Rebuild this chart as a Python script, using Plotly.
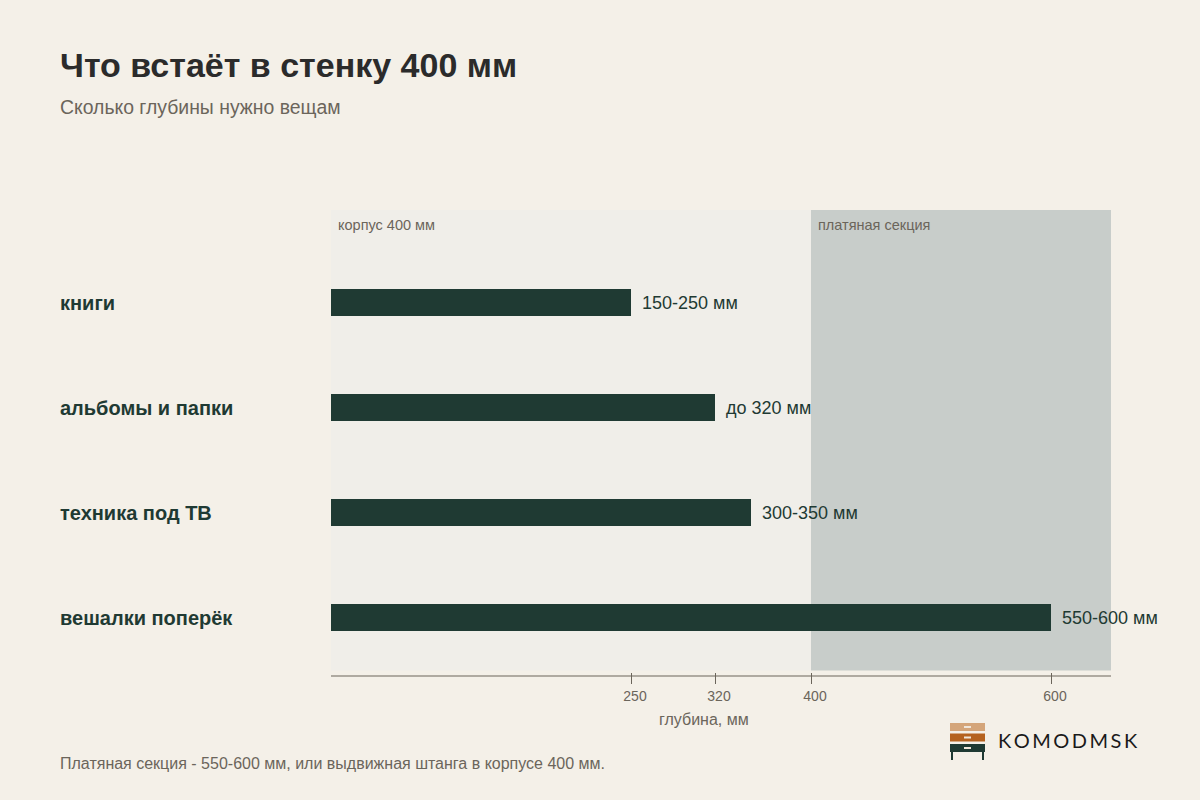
import plotly.graph_objects as go

categories = ["книги", "альбомы и папки", "техника под ТВ", "вешалки поперёк"]
depth_max = [250, 320, 350, 600]
value_labels = ["150-250 мм", "до 320 мм", "300-350 мм", "550-600 мм"]
tick_vals = [250, 320, 400, 600]
tick_text = ["250", "320", "400", "600"]
zones = [(0, 400, "корпус 400 мм"), (400, 650, "платяная секция")]

BG = "#f4f0e8"
DARK = "#1f3a33"
MUTED = "#6b655b"
FONT = "Liberation Sans, Arial, sans-serif"

W, H = 1200, 800
ML, MR, MT, MB = 331, 89, 210, 128
PW, PH = W - ML - MR, H - MT - MB


def px(xp, yp):
    """page pixel -> paper coordinates (relative to plot area)"""
    return (xp - ML) / PW, (H - MB - yp) / PH


fig = go.Figure()
fig.add_trace(go.Bar(
    x=depth_max, y=categories, orientation="h",
    marker=dict(color=DARK, line=dict(width=0)),
    width=0.26, hoverinfo="skip",
))

zone_colors = ["#f0eee9", "#c8cdca"]
for (x0, x1, label), col in zip(zones, zone_colors):
    fig.add_shape(type="rect", xref="x", yref="y domain", x0=x0, x1=x1,
                  y0=1.5 / PH, y1=1, fillcolor=col, line=dict(width=0), layer="below")
    fig.add_annotation(x=x0, y=1, xref="x", yref="y domain", text=label,
                       xanchor="left", yanchor="top", xshift=5, yshift=-5,
                       showarrow=False, font=dict(size=14.5, color=MUTED, family=FONT))

# axis line
fig.add_shape(type="line", xref="x domain", yref="y domain", x0=0, x1=1,
              y0=-4 / PH, y1=-4 / PH, line=dict(color=MUTED, width=1))

for cat, v, lab in zip(categories, depth_max, value_labels):
    fig.add_annotation(x=v, y=cat, text=lab, xanchor="left", xshift=9,
                       showarrow=False, font=dict(size=18, color=DARK, family=FONT))
    fig.add_annotation(x=px(60, 0)[0], xref="paper", y=cat, text="<b>" + cat + "</b>",
                       xanchor="left", xshift=-2, showarrow=False,
                       font=dict(size=20, color=DARK, family=FONT))


def page_text(xp, yp, text, size, color, family=FONT, anchor="left"):
    x, y = px(xp, yp)
    fig.add_annotation(x=x, y=y, xref="paper", yref="paper", text=text,
                       xanchor=anchor, yanchor="middle", showarrow=False,
                       xshift=-2 if anchor == "left" else 0,
                       font=dict(size=size, color=color, family=family))

page_text(60, 65, "<b>Что встаёт в стенку 400 мм</b>", 34, "#2b2b2b")
page_text(60, 107, "Сколько глубины нужно вещам", 19.4, MUTED)
page_text(60, 763, "Платяная секция - 550-600 мм, или выдвижная штанга в корпусе 400 мм.", 16, MUTED)
page_text(704, 719, "глубина, мм", 16, MUTED, anchor="center")


def page_rect(x0, y0, x1, y1, color):
    a = px(x0, y1); b = px(x1, y0)
    fig.add_shape(type="rect", xref="paper", yref="paper", x0=a[0], x1=b[0], y0=a[1], y1=b[1],
                  fillcolor=color, line=dict(width=0))

logo = [(723, 731, "#d4a57a"), (733.5, 741.5, "#b5621f"), (744, 752, DARK)]
for y0, y1, c in logo:
    page_rect(950, y0, 985, y1, c)
    hy = (y0 + y1) / 2
    page_rect(964, hy - 1, 971, hy + 1, "#f0e6da")
for lx in (951, 982):
    page_rect(lx, 752, lx + 2, 760, DARK)
page_text(998, 740, "\u2009".join("KOMODMSK"), 20, "#1a1a1a", "Lato, sans-serif")

fig.update_layout(
    width=W, height=H,
    paper_bgcolor=BG, plot_bgcolor=BG,
    margin=dict(l=ML, r=MR, t=MT, b=MB),
    showlegend=False, bargap=0,
    font=dict(family=FONT, color=MUTED),
    xaxis=dict(range=[0, 650], tickmode="array", tickvals=tick_vals, ticktext=tick_text,
               ticks="outside", ticklen=11, tickcolor=MUTED, tickwidth=1,
               ticklabelshift=4,
               tickfont=dict(size=14, color=MUTED), showgrid=False, zeroline=False,
               showline=False, fixedrange=True),
    yaxis=dict(type="category", categoryorder="array", categoryarray=categories,
               range=[3.519, -0.881], showticklabels=False, showgrid=False, zeroline=False,
               showline=False, ticks="", fixedrange=True),
)

fig.write_html("out.html", config={"displayModeBar": False},
               post_script="document.body.style.margin='0';")
